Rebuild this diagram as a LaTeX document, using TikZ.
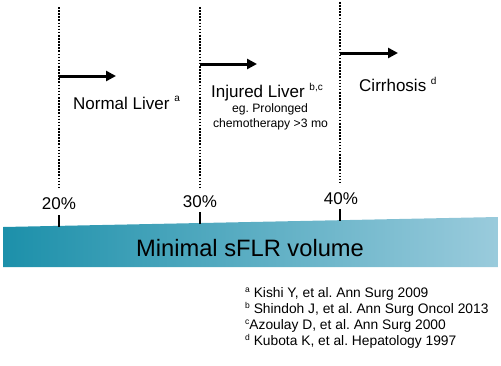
\documentclass[tikz,border=0pt]{standalone}
\usepackage{fontspec}
\setmainfont{Liberation Sans}
\usetikzlibrary{arrows.meta}
\definecolor{bandL}{HTML}{1C90AA}
\definecolor{bandR}{HTML}{9ACBDC}
\newcommand{\supx}[1]{\raisebox{0.42em}{\fontsize{10}{10}\selectfont #1}}
\newcommand{\refsup}[1]{\raisebox{0.35em}{\fontsize{8.5}{8.5}\selectfont #1}}
\tikzset{
  vline/.style={line width=1.6pt, dash pattern=on 1.6pt off 1.5pt},
  tick/.style={line width=1.5pt},
  stagearrow/.style={line width=3pt, -{Triangle[length=10pt,width=10pt]}},
  lbl/.style={inner sep=0pt, anchor=base west, font=\fontsize{17}{17}\selectfont},
  pct/.style={inner sep=0pt, anchor=base, font=\fontsize{17}{17}\selectfont},
  sub/.style={inner sep=0pt, anchor=base, font=\fontsize{12.2}{12.2}\selectfont},
  ref/.style={inner sep=0pt, anchor=base west, font=\fontsize{13.8}{13.8}\selectfont},
}
\begin{document}
\frenchspacing
\begin{tikzpicture}[x=1pt,y=-1pt]
\useasboundingbox (0,0) rectangle (501,365);
% dotted lines
\coordinate (d1t) at (59,7);  \coordinate (d1b) at (59,188);
\coordinate (d2t) at (200,7); \coordinate (d2b) at (200,188);
\coordinate (d3t) at (340,2); \coordinate (d3b) at (340,183);
\draw[vline] (d1t) -- (d1b);
\draw[vline] (d2t) -- (d2b);
\draw[vline] (d3t) -- (d3b);
% arrows
\coordinate (a1s) at (59,76);  \coordinate (a1e) at (116,76);
\coordinate (a2s) at (200,64); \coordinate (a2e) at (257,64);
\coordinate (a3s) at (340,53); \coordinate (a3e) at (398,53);
\draw[stagearrow] (a1s) -- (a1e);
\draw[stagearrow] (a2s) -- (a2e);
\draw[stagearrow] (a3s) -- (a3e);
% stage labels
\node[lbl] (normal) at (73,109) {Normal Liver \supx{a}};
\node[lbl] (injured) at (211,97.5) {Injured Liver \supx{b,c}};
\node[sub] (eg) at (270,112.5) {eg. Prolonged};
\node[sub] (chemo) at (270.5,127.5) {chemotherapy >3 mo};
\node[lbl] (cirr) at (359,91.5) {Cirrhosis \supx{d}};
% band
\shade[left color=bandL, right color=bandR] (3,227) -- (498,217) -- (498,267) -- (3,267) -- cycle;
\node[inner sep=0pt, anchor=base, font=\fontsize{23.7}{23.7}\selectfont] (band) at (250,256) {Minimal sFLR volume};
% ticks
\coordinate (t1t) at (59,215);  \coordinate (t1b) at (59,226.5);
\coordinate (t2t) at (200,212); \coordinate (t2b) at (200,223.5);
\coordinate (t3t) at (340,209); \coordinate (t3b) at (340,220.5);
\draw[tick] (t1t) -- (t1b);
\draw[tick] (t2t) -- (t2b);
\draw[tick] (t3t) -- (t3b);
% percentages
\node[pct] (p20) at (59,209) {20\%};
\node[pct] (p30) at (200,207) {30\%};
\node[pct] (p40) at (341,204) {40\%};
% references
\node[ref] (r1) at (245,297.3) {\refsup{a} Kishi Y, et al. Ann Surg 2009};
\node[ref] (r2) at (245,313.3) {\refsup{b} Shindoh J, et al. Ann Surg Oncol 2013};
\node[ref] (r3) at (245,329.3) {\refsup{c}Azoulay D, et al. Ann Surg 2000};
\node[ref] (r4) at (245,345.3) {\refsup{d} Kubota K, et al. Hepatology 1997};
\end{tikzpicture}
\end{document}
